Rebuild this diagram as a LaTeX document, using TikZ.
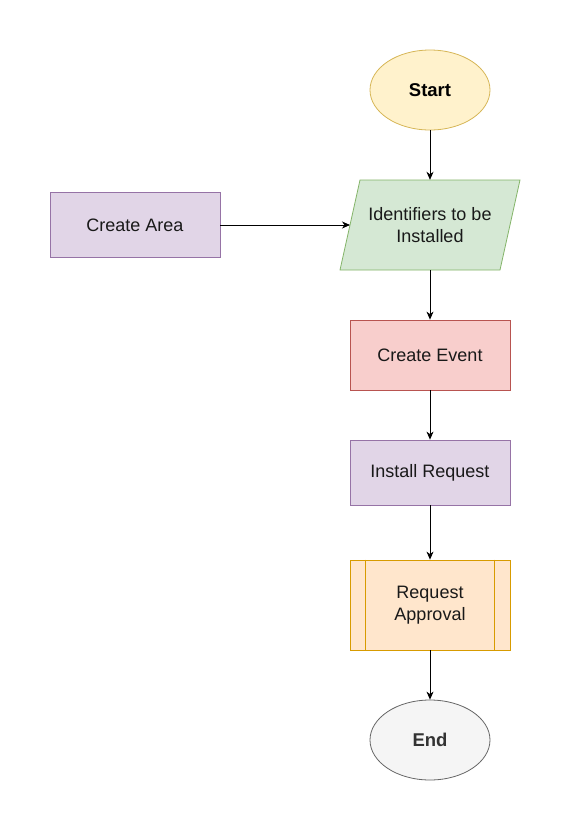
\documentclass[tikz,border=0pt]{standalone}
\usepackage{fontspec}
\setmainfont{Liberation Sans}
\usetikzlibrary{shapes.geometric,arrows.meta}
\definecolor{yelF}{HTML}{FFF2CC}\definecolor{yelD}{HTML}{D6B656}
\definecolor{grnF}{HTML}{D5E8D4}\definecolor{grnD}{HTML}{82B366}
\definecolor{purF}{HTML}{E1D5E7}\definecolor{purD}{HTML}{9673A6}
\definecolor{redF}{HTML}{F8CECC}\definecolor{redD}{HTML}{B85450}
\definecolor{orgF}{HTML}{FFE6CC}\definecolor{orgD}{HTML}{D79B00}
\definecolor{gryF}{HTML}{F5F5F5}\definecolor{gryD}{HTML}{666666}
\definecolor{gryT}{HTML}{333333}
\begin{document}
\begin{tikzpicture}[x=1pt,y=-1pt,
  every node/.style={font=\fontsize{18}{22.5}\selectfont, align=center, inner sep=0pt, text=black!90},
  box/.style={rectangle, draw, line width=0.8pt, minimum width=160pt},
  oval/.style={ellipse, draw, line width=0.8pt, minimum width=120pt, minimum height=80pt, font=\fontsize{18.5}{22}\selectfont\bfseries},
  conn/.style={line width=0.8pt, -{Stealth[length=8pt,width=7pt,inset=2.5pt]}}]
\useasboundingbox (0,0) rectangle (571,831);
% start
\node[oval, fill=yelF, draw=yelD, text=black] (start) at (430,90) {Start};
% parallelogram
\filldraw[fill=grnF, draw=grnD, line width=0.8pt] (360,180) -- (520,180) -- (500,270) -- (340,270) -- cycle;
\node[minimum width=180pt, minimum height=90pt] (ident) at (430,225) {Identifiers to be\\Installed};
\coordinate (identleft) at (350,225);
% create area
\node[box, fill=purF, draw=purD, minimum width=170pt, minimum height=65pt] (area) at (135,225) {Create Area};
% create event
\node[box, fill=redF, draw=redD, minimum height=70pt] (event) at (430,355) {Create Event};
% install request
\node[box, fill=purF, draw=purD, minimum height=65pt] (install) at (430,472.5) {Install Request};
% request approval
\node[box, fill=orgF, draw=orgD, minimum height=90pt] (approval) at (430,605) {Request\\Approval};
\draw[orgD, line width=0.8pt] ([xshift=16pt]approval.north west) -- ([xshift=16pt]approval.south west);
\draw[orgD, line width=0.8pt] ([xshift=-16pt]approval.north east) -- ([xshift=-16pt]approval.south east);
% end
\node[oval, fill=gryF, draw=gryD, text=gryT] (end) at (430,740) {End};
% connectors
\draw[conn] (start) -- (ident);
\draw[conn] (area.east) -- (identleft);
\draw[conn] (ident) -- (event);
\draw[conn] (event) -- (install);
\draw[conn] (install) -- (approval);
\draw[conn] (approval) -- (end);
\end{tikzpicture}
\end{document}
